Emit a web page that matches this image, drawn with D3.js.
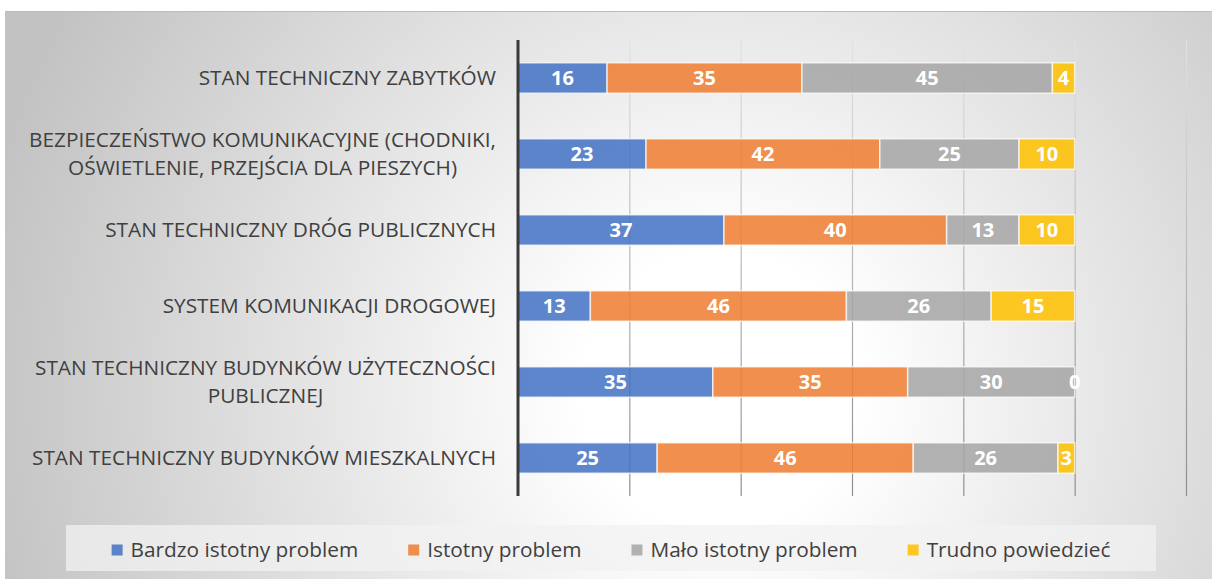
<!DOCTYPE html>
<html>
<head>
<meta charset="utf-8">
<script src="https://cdn.jsdelivr.net/npm/d3@7"></script>
<style>
  body { margin: 0; background: #fff; }
  svg { display: block; font-family: "Open Sans", sans-serif; }
</style>
</head>
<body>
<div id="chart"></div>
<script>
//---------------------------------- Data --------------------
var categories = [
  ["STAN TECHNICZNY ZABYTKÓW"],
  ["BEZPIECZEŃSTWO KOMUNIKACYJNE (CHODNIKI,", "OŚWIETLENIE, PRZEJŚCIA DLA PIESZYCH)"],
  ["STAN TECHNICZNY DRÓG PUBLICZNYCH"],
  ["SYSTEM KOMUNIKACJI DROGOWEJ"],
  ["STAN TECHNICZNY BUDYNKÓW UŻYTECZNOŚCI", "PUBLICZNEJ"],
  ["STAN TECHNICZNY BUDYNKÓW MIESZKALNYCH"]
];
var seriesNames = ["Bardzo istotny problem", "Istotny problem", "Mało istotny problem", "Trudno powiedzieć"];
var bardzo  = [16, 23, 37, 13, 35, 25];
var istotny = [35, 42, 40, 46, 35, 46];
var malo    = [45, 25, 13, 26, 30, 26];
var trudno  = [4, 10, 10, 15, 0, 3];
var gridTicks = [0, 20, 40, 60, 80, 100, 120];

var colors = ["#4472c4", "#ed7d31", "#a5a5a5", "#ffc000"];

var width = 1212, height = 579;
var axisX = 518, plotTop = 40, plotBottom = 496;

var rows = categories.map(function(c, i) {
  return {key: i, lines: c, s0: bardzo[i], s1: istotny[i], s2: malo[i], s3: trudno[i]};
});

var svg = d3.select("#chart").append("svg")
  .attr("width", width)
  .attr("height", height);

//---------------------------------- Background --------------------
var defs = svg.append("defs");
var bg = defs.append("radialGradient")
  .attr("id", "bg")
  .attr("gradientUnits", "userSpaceOnUse")
  .attr("cx", 720).attr("cy", 390).attr("r", 760);
bg.append("stop").attr("offset", "0%").attr("stop-color", "#ffffff");
bg.append("stop").attr("offset", "18%").attr("stop-color", "#ffffff");
bg.append("stop").attr("offset", "100%").attr("stop-color", "#c2c2c2");

var gridGrad = defs.append("linearGradient")
  .attr("id", "gridGrad")
  .attr("gradientUnits", "userSpaceOnUse")
  .attr("x1", 0).attr("y1", plotTop).attr("x2", 0).attr("y2", plotBottom);
gridGrad.append("stop").attr("offset", "0%").attr("stop-color", "#e2e2e2");
gridGrad.append("stop").attr("offset", "100%").attr("stop-color", "#8e8e8e");

svg.append("rect")
  .attr("x", 5).attr("y", 11)
  .attr("width", width).attr("height", height)
  .attr("fill", "url(#bg)");
svg.append("line")
  .attr("x1", 5).attr("x2", width).attr("y1", 11.5).attr("y2", 11.5)
  .attr("stroke", "#bdbdbd").attr("stroke-width", 1);

//---------------------------------- Scales --------------------
var x_scale = d3.scaleLinear().domain([0, 120]).range([axisX, 1186]);
var y_scale = d3.scaleBand()
  .domain(rows.map(function(d) { return d.key; }))
  .range([plotTop, plotBottom])
  .paddingInner(0.6)
  .paddingOuter(0.3);

// gridlines
svg.append("g").selectAll("line")
  .data(gridTicks.slice(1))
  .join("line")
  .attr("x1", function(d) { return x_scale(d) + 0.5; })
  .attr("x2", function(d) { return x_scale(d) + 0.5; })
  .attr("y1", plotTop).attr("y2", plotBottom)
  .attr("stroke", "url(#gridGrad)")
  .attr("stroke-width", 1.2);

//---------------------------------- Bars --------------------
var stack = d3.stack().keys(["s0", "s1", "s2", "s3"]);
var stacked = stack(rows);

var layers = svg.append("g").selectAll("g")
  .data(stacked)
  .join("g")
  .attr("fill", function(d, i) { return colors[i]; });

layers.selectAll("rect")
  .data(function(d) { return d; })
  .join("rect")
  .attr("x", function(d) { return x_scale(d[0]); })
  .attr("y", function(d) { return y_scale(d.data.key); })
  .attr("width", function(d) { return x_scale(d[1]) - x_scale(d[0]); })
  .attr("height", y_scale.bandwidth())
  .attr("fill-opacity", 0.86)
  .attr("stroke", "rgba(255,255,255,0.7)")
  .attr("stroke-width", 1.5);

layers.selectAll("text")
  .data(function(d) { return d; })
  .join("text")
  .attr("x", function(d) { return (x_scale(d[0]) + x_scale(d[1])) / 2; })
  .attr("y", function(d) { return y_scale(d.data.key) + y_scale.bandwidth() / 2; })
  .attr("dy", "0.36em")
  .attr("text-anchor", "middle")
  .attr("fill", "#ffffff")
  .attr("font-size", "20px")
  .attr("font-weight", "bold")
  .text(function(d) { return d[1] - d[0]; });

// vertical axis line
svg.append("line")
  .attr("x1", axisX).attr("x2", axisX)
  .attr("y1", plotTop).attr("y2", plotBottom)
  .attr("stroke", "#3a3a3a")
  .attr("stroke-width", 3);

//---------------------------------- Category labels --------------------
var lineH = 28;
var labels = svg.append("g").selectAll("text")
  .data(rows)
  .join("text")
  .attr("fill", "#404040")
  .attr("font-size", "20.8px")
  .attr("text-anchor", "middle");

labels.each(function(d) {
  var t = d3.select(this);
  var cy = y_scale(d.key) + y_scale.bandwidth() / 2;
  var n = d.lines.length;
  d.lines.forEach(function(line, j) {
    t.append("tspan")
      .attr("y", cy + (j - (n - 1) / 2) * lineH)
      .attr("dy", "0.36em")
      .text(line);
  });
  // right align the block, center lines inside it
  var maxW = 0;
  t.selectAll("tspan").each(function() {
    maxW = Math.max(maxW, this.getComputedTextLength());
  });
  t.selectAll("tspan").attr("x", 496 - maxW / 2);
});

//---------------------------------- Legend --------------------
svg.append("rect")
  .attr("x", 66).attr("y", 525)
  .attr("width", 1090).attr("height", 46)
  .attr("fill", "#f2f2f2")
  .attr("fill-opacity", 0.75);

var legend = svg.append("g");
var items = legend.selectAll("g")
  .data(seriesNames)
  .join("g");

items.append("rect")
  .attr("width", 11).attr("height", 11)
  .attr("y", 544.5)
  .attr("fill", function(d, i) { return colors[i]; })
  .attr("fill-opacity", 0.86);

items.append("text")
  .attr("x", 19)
  .attr("y", 550)
  .attr("dy", "0.36em")
  .attr("fill", "#404040")
  .attr("font-size", "20.8px")
  .text(function(d) { return d; });

var widths = [];
items.select("text").each(function() { widths.push(19 + this.getComputedTextLength()); });
var gap = 50;
var total = d3.sum(widths) + gap * (widths.length - 1);
var startX = 611 - total / 2;
items.attr("transform", function(d, i) {
  var off = startX + d3.sum(widths.slice(0, i)) + gap * i;
  return "translate(" + off + ",0)";
});
</script>
</body>
</html>
